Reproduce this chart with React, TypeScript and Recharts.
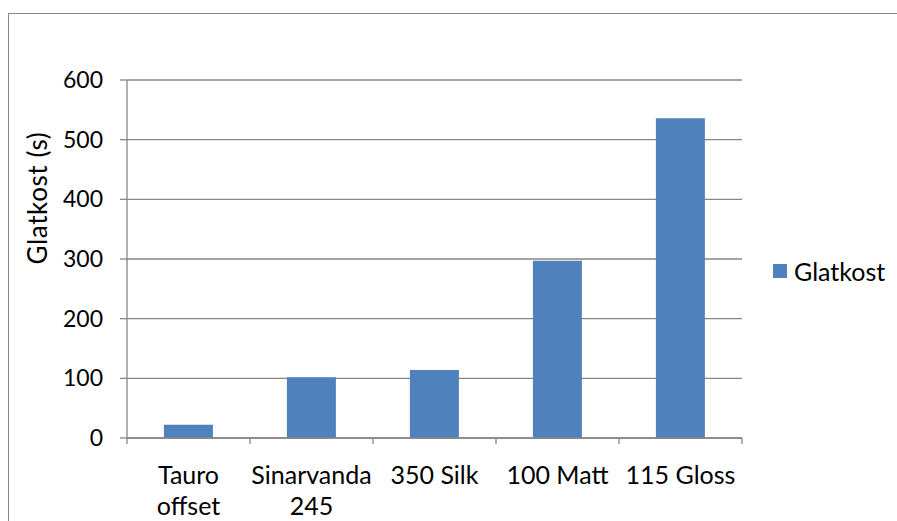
import React from 'react'
import { Bar, BarChart, CartesianGrid, Legend, XAxis, YAxis } from 'recharts'

// category labels, split where the original wraps them
const categories = ['Tauro\noffset', 'Sinarvanda\n245', '350 Silk', '100 Matt', '115 Gloss']
const glatkost = [22, 102, 114, 297, 536]
const yTicks = [0, 100, 200, 300, 400, 500, 600]

const data = categories.map((name, i) => ({ name, glatkost: glatkost[i] }))

const FONT = 'Lato, "Open Sans", sans-serif'
const GRID = '#868686'
const BLUE = '#4F81BD'

// excel puts the x tick marks between the columns, not under them, so the
// tick draws its own marks at the band edges
function CategoryTick({ x, y, payload, width, visibleTicksCount, index }: any) {
  const half = payload?.offset || width / visibleTicksCount / 2
  const lines = String(payload.value).split('\n')
  const last = index === visibleTicksCount - 1
  return (
    <g>
      <line x1={x - half} x2={x - half} y1={y} y2={y + 6} stroke={GRID} strokeWidth={1.3} />
      {last && <line x1={x + half} x2={x + half} y1={y} y2={y + 6} stroke={GRID} strokeWidth={1.3} />}
      <text x={x} y={y} textAnchor="middle" fontFamily={FONT} fontSize={25} fill="#000">
        {lines.map((l, i) => (
          <tspan key={i} x={x} dy={i === 0 ? 46 : 31}>
            {l}
          </tspan>
        ))}
      </text>
    </g>
  )
}

function YLabel({ viewBox }: any) {
  const cx = viewBox.x + 37
  const cy = viewBox.y + viewBox.height / 2 - 61
  return (
    <text
      x={cx}
      y={cy}
      transform={`rotate(-90 ${cx} ${cy})`}
      textAnchor="middle"
      dominantBaseline="central"
      fontFamily={FONT}
      fontSize={26}
      letterSpacing={0.6}
      fill="#000"
    >
      Glatkost (s)
    </text>
  )
}

function LegendBox({ payload }: any) {
  return (
    <div style={{ display: 'flex', alignItems: 'center', fontFamily: FONT, fontSize: 25, color: '#000' }}>
      {(payload || []).map((p: any) => (
        <React.Fragment key={p.value}>
          <span style={{ width: 14, height: 14, background: BLUE, display: 'inline-block', marginRight: 7 }} />
          <span>{p.value}</span>
        </React.Fragment>
      ))}
    </div>
  )
}

export default function App() {
  return (
    <div style={{ position: 'absolute', left: 0, top: 0, width: 897, height: 521, background: '#fff', overflow: 'hidden' }}>
      <div
        style={{
          position: 'absolute',
          left: 8,
          top: 13,
          width: 900,
          height: 520,
          border: `1px solid ${GRID}`,
        }}
      />
      <BarChart
        width={897}
        height={521}
        data={data}
        margin={{ top: 80, right: 155, bottom: 0, left: 0 }}
        barCategoryGap="30%"
        style={{ position: 'absolute', left: 0, top: 0 }}
      >
        <CartesianGrid vertical={false} stroke={GRID} strokeWidth={1.3} />
        <XAxis
          dataKey="name"
          height={83}
          axisLine={{ stroke: GRID, strokeWidth: 1.3 }}
          tickLine={false}
          tickSize={0}
          tickMargin={0}
          interval={0}
          tick={<CategoryTick />}
        />
        <YAxis
          width={127}
          domain={[0, 600]}
          ticks={yTicks}
          tickSize={7}
          tickMargin={17}
          axisLine={{ stroke: GRID, strokeWidth: 1.3 }}
          tickLine={{ stroke: GRID, strokeWidth: 1.3 }}
          tick={{ fontFamily: FONT, fontSize: 23, fill: '#000' }}
          label={{ content: <YLabel /> }}
        />
        {/* horizontal + middle + center reserves no room in the plot offset */}
        <Legend
          content={<LegendBox />}
          layout="horizontal"
          verticalAlign="middle"
          align="center"
          wrapperStyle={{ position: 'absolute', left: 773, top: 256, width: 124 }}
        />
        <Bar dataKey="glatkost" name="Glatkost" fill={BLUE} isAnimationActive={false} />
      </BarChart>
    </div>
  )
}
